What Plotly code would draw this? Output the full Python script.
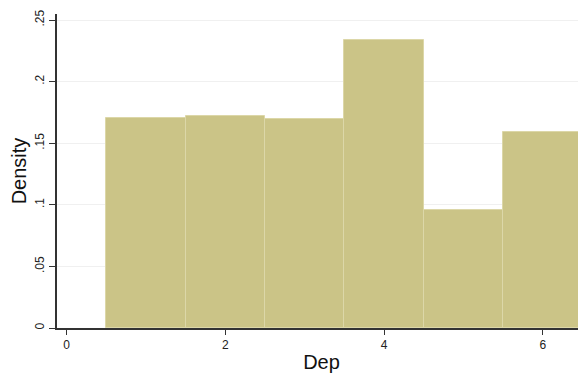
import plotly.graph_objects as go

# Data
bin_centers = [1, 2, 3, 4, 5, 6]
density = [0.1703, 0.1724, 0.1700, 0.2338, 0.0959, 0.1594]
x_ticks = [0, 2, 4, 6]
x_ticklabels = ["0", "2", "4", "6"]
y_ticks = [0, 0.05, 0.1, 0.15, 0.2, 0.25]
y_ticklabels = ["0", ".05", ".1", ".15", ".2", ".25"]

fig = go.Figure()
fig.add_trace(go.Bar(
    x=bin_centers,
    y=density,
    width=1,
    marker=dict(color="#CBC487", line=dict(color="#DCD7A8", width=1)),
    showlegend=False,
))

font_family = "Liberation Sans, Arial, sans-serif"

# page body adds an 8px offset; figure sized to compensate
fig.update_layout(
    width=578,
    height=366,
    margin=dict(l=49, r=0, t=6, b=46),
    paper_bgcolor="white",
    plot_bgcolor="white",
    font=dict(family=font_family, color="#222222"),
    bargap=0,
    xaxis=dict(
        range=[-0.122, 6.544],
        tickmode="array",
        tickvals=x_ticks,
        ticktext=x_ticklabels,
        ticks="outside",
        ticklen=5,
        tickwidth=1.2,
        tickcolor="#333333",
        showline=True,
        linecolor="#333333",
        linewidth=1.5,
        showgrid=False,
        zeroline=False,
        tickfont=dict(size=12, color="#222222"),
        title=dict(text="Dep", font=dict(size=20, color="#111111"), standoff=4),
    ),
    yaxis=dict(
        range=[0, 0.2549],
        tickmode="array",
        tickvals=y_ticks,
        ticktext=y_ticklabels,
        tickangle=-90,
        ticks="outside",
        ticklen=6,
        tickwidth=1.2,
        tickcolor="#333333",
        showline=True,
        linecolor="#333333",
        linewidth=1.5,
        showgrid=True,
        gridcolor="#F0F0F0",
        gridwidth=1,
        zeroline=False,
        tickfont=dict(size=12, color="#222222"),
        title=dict(text="Density", font=dict(size=20, color="#111111"), standoff=4),
    ),
)

fig.write_html("out.html")
